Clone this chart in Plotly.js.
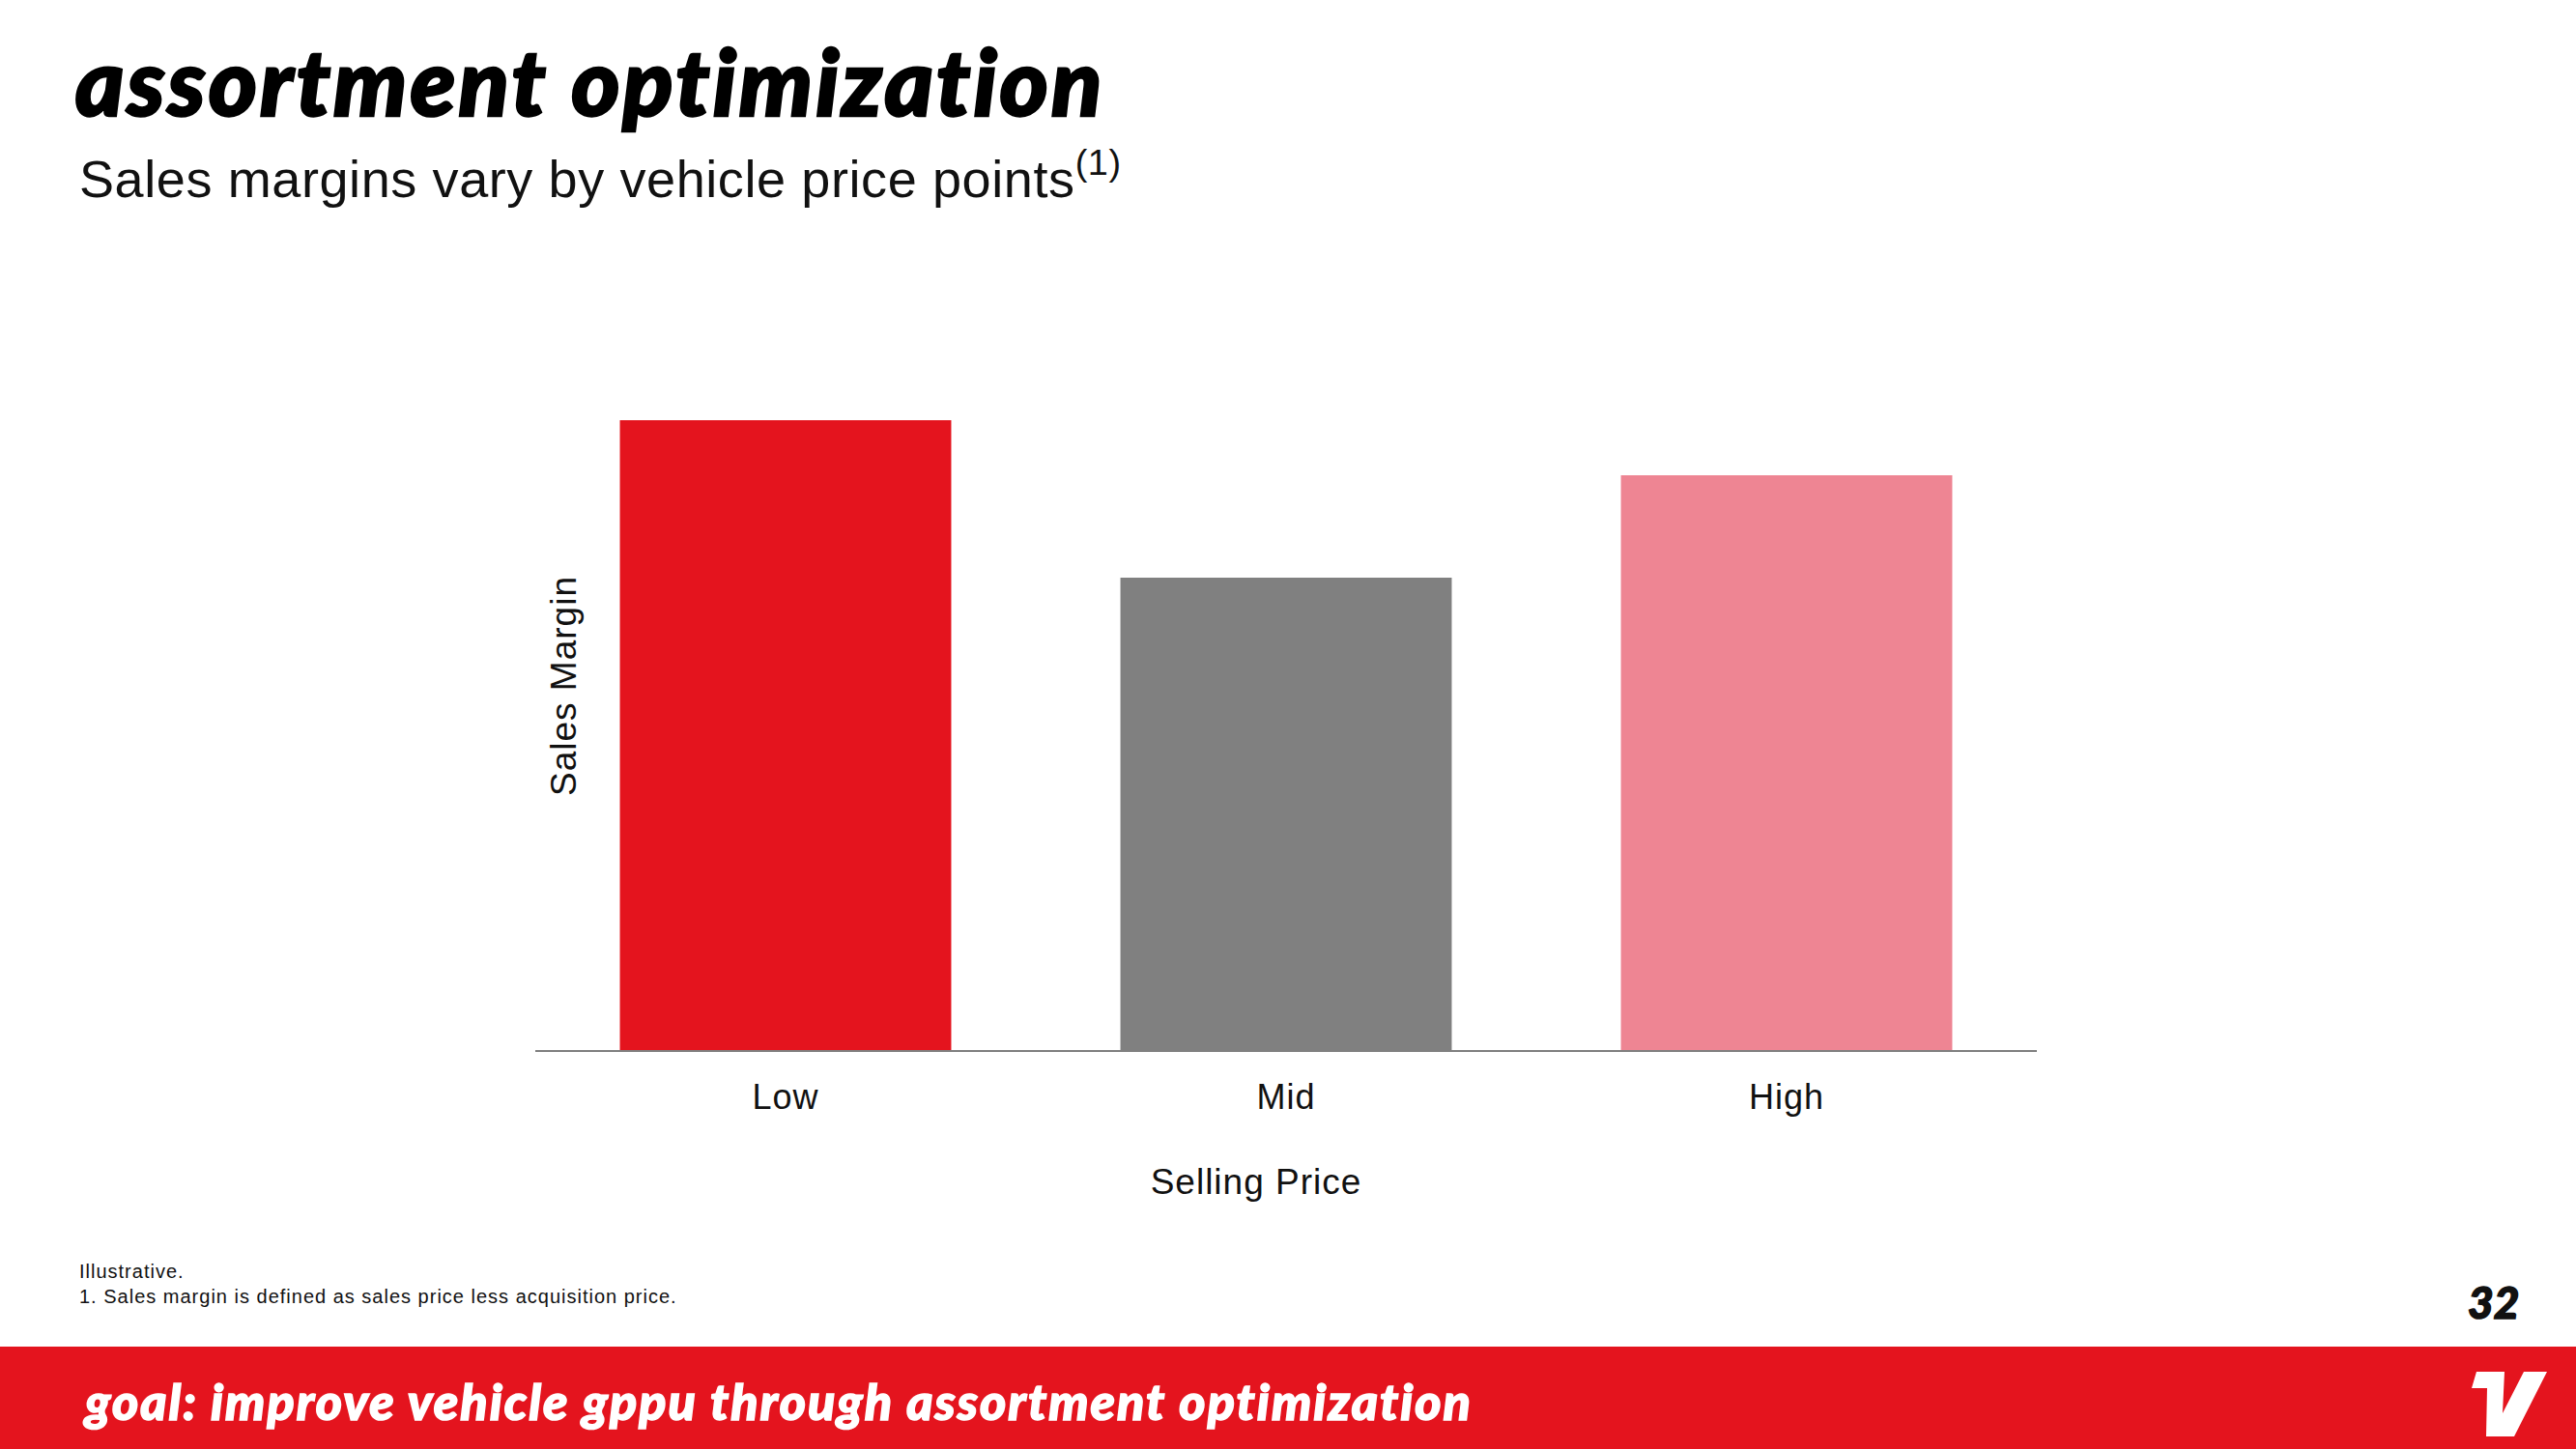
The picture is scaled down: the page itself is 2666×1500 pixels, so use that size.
<!DOCTYPE html>
<html>
<head>
<meta charset="utf-8">
<script src="https://cdn.plot.ly/plotly-3.0.1.min.js"></script>
<style>
  html, body { margin: 0; padding: 0; background: #fff; }
  #chart { width: 2666px; height: 1500px; }
  .gtitle { letter-spacing: 3px; stroke: #000; stroke-width: 2.5px; }
  .annotation[data-index="0"] text { letter-spacing: 0.6px; }
  .annotation[data-index="1"] text, .annotation[data-index="2"] text { letter-spacing: 1px; }
  .annotation[data-index="3"] text { stroke: #111; stroke-width: 1.5px; }
  .annotation[data-index="4"] text { letter-spacing: 2px; stroke: #fff; stroke-width: 1.5px; }
  .xtick text { letter-spacing: 1px; }
  .g-xtitle text, .g-ytitle text { letter-spacing: 1px; }
</style>
</head>
<body>
<div id="chart"></div>
<script>
// ---- data ----
const categories = ['Low', 'Mid', 'High'];
const salesMargin = [86, 64.5, 78.5];
const barColors = ['#E4141E', '#808080', '#EE8593'];

const titleText = 'assortment optimization';
const subtitleText = 'Sales margins vary by vehicle price points<sup>(1)</sup>';
const xTitle = 'Selling Price';
const yTitle = 'Sales Margin';
const noteLines = ['Illustrative.', '1. Sales margin is defined as sales price less acquisition price.'];
const footerText = 'goal: improve vehicle gppu through assortment optimization';
const pageNumber = '32';

// ---- layout geometry (pixels) ----
const W = 2666, H = 1500;
const PL = 554, PR = 2108, PT = 329, PB = 1087;
const px = x => (x - PL) / (PR - PL);
const py = y => (PB - y) / (PB - PT);

const RED = '#E4141E';
const sans = '"Liberation Sans", Arial, sans-serif';
const heavy = '"Lato Black", Lato, "Open Sans", sans-serif';

const logoPts = [[2558,1437],[2563,1420],[2592,1420],[2590,1463],[2612,1420],[2636,1420],[2602,1487],[2573,1487],[2574,1437]];
const logoPath = 'M ' + logoPts.map(p => px(p[0]) + ',' + py(p[1])).join(' L ') + ' Z';

const trace = {
  type: 'bar',
  x: categories,
  y: salesMargin,
  marker: { color: barColors, line: { width: 0 } },
  hoverinfo: 'skip'
};

const layout = {
  width: W, height: H,
  paper_bgcolor: '#ffffff', plot_bgcolor: '#ffffff',
  margin: { l: PL, r: W - PR, t: PT, b: H - PB, pad: 0 },
  showlegend: false,
  bargap: 0.338,
  title: {
    text: titleText,
    font: { family: heavy, size: 96, weight: 900, style: 'italic', color: '#000' },
    x: 78 / W, xanchor: 'left', xref: 'container',
    y: 1 - 53 / H, yanchor: 'top', yref: 'container'
  },
  xaxis: {
    type: 'category',
    showline: true, linecolor: '#808080', linewidth: 2,
    ticks: '', showgrid: false, zeroline: false,
    ticklabelstandoff: 16,
    tickfont: { family: sans, size: 36, color: '#111' },
    title: { text: xTitle, font: { family: sans, size: 37, color: '#111' }, standoff: 56 },
    fixedrange: true
  },
  yaxis: {
    range: [0, 100],
    showline: false, showticklabels: false, showgrid: false, zeroline: false, ticks: '',
    title: { text: yTitle, font: { family: sans, size: 37, color: '#111' }, standoff: 0 },
    fixedrange: true
  },
  shapes: [
    { type: 'rect', xref: 'paper', yref: 'paper', x0: px(0), x1: px(W), y0: py(1394), y1: py(H),
      fillcolor: RED, line: { width: 0 }, layer: 'below' },
    { type: 'path', xref: 'paper', yref: 'paper', path: logoPath, fillcolor: '#ffffff', line: { width: 0 } }
  ],
  annotations: [
    { text: subtitleText, xref: 'paper', yref: 'paper', x: px(80), y: py(181), xanchor: 'left', yanchor: 'middle',
      showarrow: false, align: 'left', font: { family: sans, size: 54, color: '#111' } },
    { text: noteLines[0], xref: 'paper', yref: 'paper', x: px(80), y: py(1316), xanchor: 'left', yanchor: 'middle',
      showarrow: false, align: 'left', font: { family: sans, size: 20, color: '#111' } },
    { text: noteLines[1], xref: 'paper', yref: 'paper', x: px(80), y: py(1342), xanchor: 'left', yanchor: 'middle',
      showarrow: false, align: 'left', font: { family: sans, size: 20, color: '#111' } },
    { text: pageNumber, xref: 'paper', yref: 'paper', x: px(2580), y: py(1347), xanchor: 'center', yanchor: 'middle',
      showarrow: false, font: { family: heavy, size: 46, weight: 900, style: 'italic', color: '#111' } },
    { text: footerText, xref: 'paper', yref: 'paper', x: px(84), y: py(1450), xanchor: 'left', yanchor: 'middle',
      showarrow: false, align: 'left', font: { family: heavy, size: 52, weight: 900, style: 'italic', color: '#ffffff' } }
  ]
};

// Move an axis title group so that its text centre lands on a target point (page pixels).
function placeTitle(gd, selector, cx, cy) {
  const g = gd.querySelector(selector);
  if (!g) return;
  const t = g.querySelector('text');
  if (!t) return;
  const host = gd.getBoundingClientRect();
  const b = t.getBoundingClientRect();
  const dx = cx - (b.left - host.left + b.width / 2);
  const dy = cy - (b.top - host.top + b.height / 2);
  g.setAttribute('transform', 'translate(' + dx.toFixed(1) + ',' + dy.toFixed(1) + ')');
}

Plotly.newPlot('chart', [trace], layout, { displayModeBar: false, staticPlot: true }).then(gd => {
  placeTitle(gd, '.g-ytitle', 583, 710);
  placeTitle(gd, '.g-xtitle', 1300, 1224);
});
</script>
</body>
</html>
